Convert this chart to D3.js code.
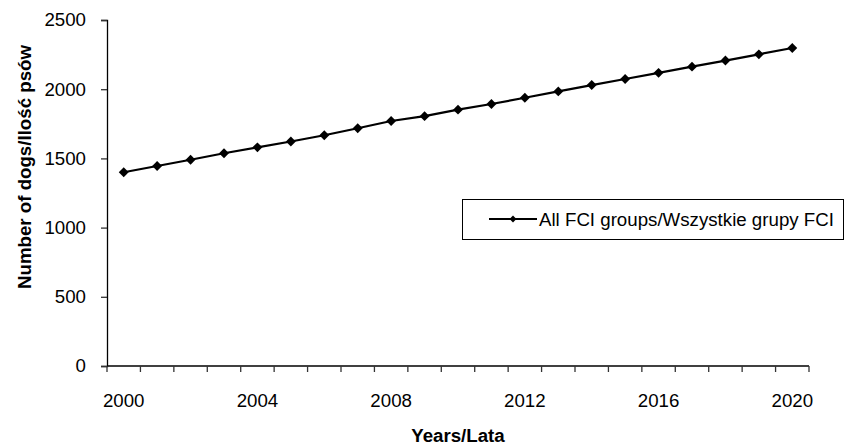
<!DOCTYPE html>
<html>
<head>
<meta charset="utf-8">
<script src="https://cdn.jsdelivr.net/npm/d3@7"></script>
<style>
  body { margin: 0; background: #fff; }
  text { font-family: "Liberation Sans", Arial, sans-serif; fill: #000; }
</style>
</head>
<body>
<svg id="svg"></svg>
<script>
const years = [2000, 2001, 2002, 2003, 2004, 2005, 2006, 2007, 2008, 2009, 2010,
               2011, 2012, 2013, 2014, 2015, 2016, 2017, 2018, 2019, 2020];
const dogs = [1400, 1445, 1490, 1537, 1580, 1622, 1667, 1718, 1770, 1805, 1852,
              1893, 1938, 1984, 2030, 2074, 2118, 2163, 2207, 2252, 2298];
const yTicks = [0, 500, 1000, 1500, 2000, 2500];
const xLabels = [2000, 2004, 2008, 2012, 2016, 2020];
const seriesName = "All FCI groups/Wszystkie grupy FCI";

let layout = {"width": 846, "height": 447,
              "left": 107, "right": 809, "top": 20, "bottom": 366};
const fontSize = "18.7px";

let svg = d3.select("#svg")
            .attr("width", layout.width)
            .attr("height", layout.height);

let xScale = d3.scaleBand()
               .domain(years)
               .range([layout.left, layout.right])
               .padding(0);
let bw = xScale.bandwidth();

let yScale = d3.scaleLinear()
               .domain([0, 2500])
               .range([layout.bottom, layout.top]);

// y axis
let yAxis = svg.append("g")
               .attr("transform", `translate(${layout.left},0)`)
               .call(d3.axisLeft(yScale)
                       .tickValues(yTicks)
                       .tickFormat(d3.format("d"))
                       .tickSize(6)
                       .tickPadding(15));
yAxis.select(".domain").attr("stroke", "#000").attr("stroke-width", 1.3);
yAxis.selectAll(".tick line").attr("stroke", "#333").attr("stroke-width", 1.3);
yAxis.selectAll(".tick text").attr("font-size", fontSize)
     .attr("font-family", "Liberation Sans, Arial, sans-serif").attr("fill", "#000");

// x axis: category axis, ticks between categories
let xg = svg.append("g");
xg.append("line")
  .attr("x1", layout.left).attr("x2", layout.right)
  .attr("y1", layout.bottom).attr("y2", layout.bottom)
  .attr("stroke", "#000").attr("stroke-width", 1.3);
let tickPos = years.map(y => xScale(y)).concat([xScale(years[years.length - 1]) + bw]);
xg.selectAll(".xtick")
  .data(tickPos)
  .join("line")
  .attr("class", "xtick")
  .attr("x1", d => d).attr("x2", d => d)
  .attr("y1", layout.bottom).attr("y2", layout.bottom + 6)
  .attr("stroke", "#333").attr("stroke-width", 1.3);
xg.selectAll(".xlabel")
  .data(xLabels)
  .join("text")
  .attr("class", "xlabel")
  .attr("x", d => xScale(d) + bw / 2)
  .attr("y", 407)
  .attr("text-anchor", "middle")
  .attr("font-size", fontSize)
  .text(d => d);

// axis titles
svg.append("text")
   .attr("x", (layout.left + layout.right) / 2)
   .attr("y", 442)
   .attr("text-anchor", "middle")
   .attr("font-size", fontSize)
   .attr("font-weight", "bold")
   .text("Years/Lata");

svg.append("text")
   .attr("transform", "translate(31,167) rotate(-90)")
   .attr("text-anchor", "middle")
   .attr("font-size", fontSize)
   .attr("font-weight", "bold")
   .text("Number of dogs/Ilość psów");

// series
let line = d3.line()
             .x((d, i) => xScale(years[i]) + bw / 2)
             .y(d => yScale(d));

svg.append("path")
   .datum(dogs)
   .attr("d", line)
   .attr("fill", "none")
   .attr("stroke", "#000")
   .attr("stroke-width", 2.2);

let diamond = d3.symbol().type(d3.symbolDiamond2);
svg.selectAll(".pt")
   .data(dogs)
   .join("path")
   .attr("class", "pt")
   .attr("d", diamond.size(62))
   .attr("transform", (d, i) => `translate(${xScale(years[i]) + bw / 2},${yScale(d)})`)
   .attr("fill", "#000");

// legend
let legend = svg.append("g");
legend.append("rect")
      .attr("x", 462.5).attr("y", 199.5)
      .attr("width", 381).attr("height", 40)
      .attr("fill", "#fff")
      .attr("stroke", "#000").attr("stroke-width", 1);
legend.append("line")
      .attr("x1", 489).attr("x2", 537)
      .attr("y1", 219).attr("y2", 219)
      .attr("stroke", "#000").attr("stroke-width", 2.2);
legend.append("path")
      .attr("d", d3.symbol().type(d3.symbolDiamond2).size(30)())
      .attr("transform", "translate(513,219)")
      .attr("fill", "#000");
legend.append("text")
      .attr("x", 539).attr("y", 219)
      .attr("dy", "0.35em")
      .attr("font-size", fontSize)
      .text(seriesName);
</script>
</body>
</html>
